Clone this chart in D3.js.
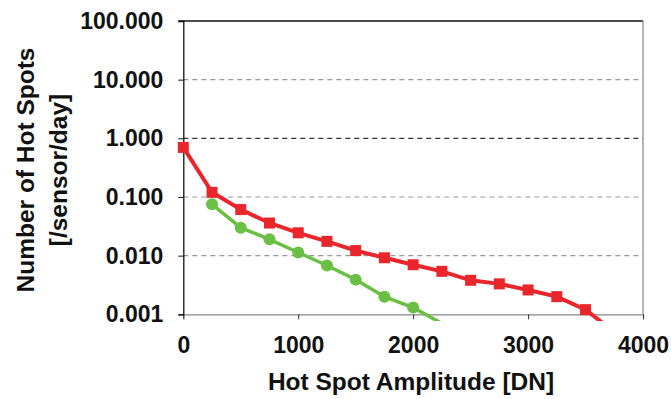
<!DOCTYPE html>
<html><head><meta charset="utf-8">
<script src="https://cdn.jsdelivr.net/npm/d3@7"></script>
<style>body{margin:0;background:#fff}svg{display:block}text{font-family:"Liberation Sans",Arial,sans-serif;font-weight:bold;fill:#111}</style>
</head><body><svg id="c" width="671" height="399"></svg>
<script>
const redX = [0,250,500,750,1000,1250,1500,1750,2000,2250,2500,2750,3000,3250,3500,3750];
const redY = [0.70,0.12,0.061,0.036,0.0245,0.0175,0.0122,0.0092,0.0070,0.0054,0.0038,0.0033,0.0026,0.0020,0.0012,0.0005];
const greenX = [250,500,750,1000,1250,1500,1750,2000,2250];
const greenY = [0.075,0.030,0.019,0.0113,0.0068,0.0039,0.0020,0.0013,0.0007];
const xTicks = [0,1000,2000,3000,4000];
const yTicks = [0.001,0.01,0.1,1,10,100];
const yTickLabels = ["0.001","0.010","0.100","1.000","10.000","100.000"];

const svg = d3.select("#c");
const x = d3.scaleLinear().domain([0,4000]).range([183.3,643]);
const y = d3.scaleLog().domain([0.001,100]).range([314.3,21]);

// gridlines
[0.01,0.1,1,10].forEach(v=>{
  svg.append("line").attr("x1",x(0)).attr("x2",x(4000)).attr("y1",y(v)).attr("y2",y(v))
    .attr("stroke", v===1?"#333":"#999").attr("stroke-width",1.2).attr("stroke-dasharray","5,4");
});
svg.append("line").attr("x1",x(0)-5).attr("x2",x(4000)).attr("y1",y(100)).attr("y2",y(100)).attr("stroke","#111").attr("stroke-width",1.3);
svg.append("line").attr("x1",x(4000)).attr("x2",x(4000)).attr("y1",y(100)).attr("y2",y(0.001)).attr("stroke","#888").attr("stroke-width",1.2);

const xa = svg.append("g").attr("transform",`translate(0,${y(0.001)})`)
  .call(d3.axisBottom(x).tickValues(xTicks).tickSize(5).tickPadding(17).tickFormat(d3.format("d")));
xa.select(".domain").attr("stroke","#888").attr("stroke-width",1.2);
xa.selectAll(".tick line").attr("stroke","#333");
xa.selectAll("text").attr("font-size",23).attr("font-family","Liberation Sans, Arial, sans-serif").attr("font-weight","bold").attr("fill","#111");

const ya = svg.append("g").attr("transform",`translate(${x(0)},0)`)
  .call(d3.axisLeft(y).tickValues(yTicks).tickSize(5).tickPadding(15).tickFormat((d,i)=>yTickLabels[i]));
ya.select(".domain").attr("stroke","#111").attr("stroke-width",1.3);
ya.selectAll(".tick line").attr("stroke","#111");
ya.selectAll("text").attr("font-size",23).attr("font-family","Liberation Sans, Arial, sans-serif").attr("font-weight","bold").attr("fill","#111");

svg.append("clipPath").attr("id","clip").append("rect")
  .attr("x",x(0)-10).attr("y",0).attr("width",x(4000)-x(0)+10).attr("height",321);

const line = d3.line().x(d=>x(d[0])).y(d=>y(d[1]));
const red = redX.map((v,i)=>[v,redY[i]]);
const green = greenX.map((v,i)=>[v,greenY[i]]);
const g = svg.append("g").attr("clip-path","url(#clip)");
const redC = "#e8262b", greenC = "#6cbf45";
g.append("path").datum(red).attr("d",line).attr("fill","none").attr("stroke",redC).attr("stroke-width",4);
g.append("path").datum(green).attr("d",line).attr("fill","none").attr("stroke",greenC).attr("stroke-width",3.5);
g.selectAll("rect.m").data(red.filter(d=>d[1]>=0.001)).enter().append("rect")
  .attr("x",d=>x(d[0])-5.5).attr("y",d=>y(d[1])-5.5).attr("width",11).attr("height",11).attr("fill",redC);
g.selectAll("circle.m").data(green.filter(d=>d[1]>=0.001)).enter().append("circle")
  .attr("cx",d=>x(d[0])).attr("cy",d=>y(d[1])).attr("r",6).attr("fill",greenC);

svg.append("text").attr("x",411).attr("y",390).attr("text-anchor","middle").attr("font-size",24.5).text("Hot Spot Amplitude [DN]");
const yt = svg.append("text").attr("transform","translate(0,170) rotate(-90)").attr("text-anchor","middle").attr("font-size",24.5);
yt.append("tspan").attr("x",0).attr("y",34).text("Number of Hot Spots");
yt.append("tspan").attr("x",0).attr("y",67).text("[/sensor/day]");
</script></body></html>
